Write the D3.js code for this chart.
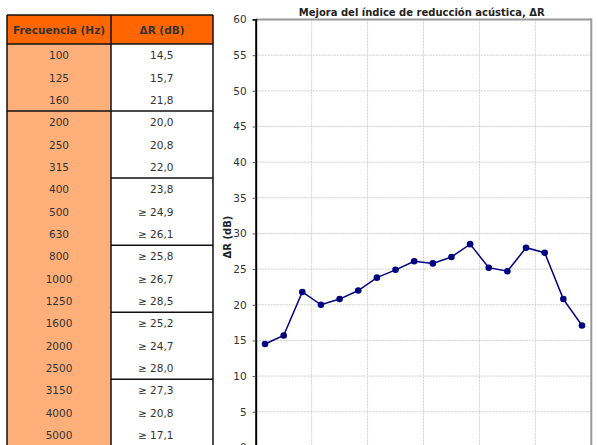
<!DOCTYPE html>
<html><head><meta charset="utf-8">
<script src="https://cdn.jsdelivr.net/npm/d3@7/dist/d3.min.js"></script>
<style>body{margin:0;background:#fff}svg{display:block}</style>
</head><body><svg id="c" width="598" height="445"></svg>
<script>
const freqs = [100,125,160,200,250,315,400,500,630,800,1000,1250,1600,2000,2500,3150,4000,5000];
const deltaR = [14.5,15.7,21.8,20.0,20.8,22.0,23.8,24.9,26.1,25.8,26.7,28.5,25.2,24.7,28.0,27.3,20.8,17.1];
const atLeast = [false,false,false,false,false,false,false,true,true,true,true,true,true,true,true,true,true,true];
const yTicks = [0,5,10,15,20,25,30,35,40,45,50,55,60];
const headers = ["Frecuencia (Hz)", "ΔR (dB)"];
const title = "Mejora del índice de reducción acústica, ΔR";
const yTitle = "ΔR (dB)";

const svg = d3.select("#c");
const font = "'DejaVu Sans', Verdana, sans-serif";

// ---------- Table ----------
const tx0 = 7, tx1 = 111, tx2 = 213, ty0 = 15, ty1 = 44, rowH = 22.35;
const tbl = svg.append("g");
const rowY = d3.scaleLinear().domain([0, freqs.length]).range([ty1, ty1 + rowH*freqs.length]);
tbl.append("rect").attr("x",tx0).attr("y",ty0).attr("width",tx2-tx0).attr("height",ty1-ty0).attr("fill","#ff6600");
tbl.append("rect").attr("x",tx0).attr("y",ty1).attr("width",tx1-tx0).attr("height",rowH*freqs.length).attr("fill","#ffb07a");
tbl.append("text").attr("x",(tx0+tx1)/2).attr("y",33.5).attr("text-anchor","middle")
  .attr("font-family",font).attr("font-size",10.5).attr("font-weight","bold").attr("fill","#333").text(headers[0]);
tbl.append("text").attr("x",(tx1+tx2)/2).attr("y",33.5).attr("text-anchor","middle")
  .attr("font-family",font).attr("font-size",10.5).attr("font-weight","bold").attr("fill","#333").text(headers[1]);
freqs.forEach((f,i)=>{
  const cy = rowY(i+0.5);
  tbl.append("text").attr("x",(tx0+tx1)/2).attr("y",cy+4).attr("text-anchor","middle")
    .attr("font-family",font).attr("font-size",10.5).attr("fill","#333").text(f);
  tbl.append("text").attr("x",173.5).attr("y",cy+4).attr("text-anchor","end")
    .attr("font-family",font).attr("font-size",10.5).attr("fill","#333")
    .text((atLeast[i] ? "≥ " : "") + deltaR[i].toFixed(1).replace(".", ","));
});
const ln = (x1,y1,x2,y2)=>tbl.append("line").attr("x1",x1).attr("y1",y1).attr("x2",x2).attr("y2",y2)
  .attr("stroke","#111").attr("stroke-width",1.5);
ln(tx0,ty0,tx2,ty0); ln(tx0,ty1,tx2,ty1);
ln(tx0,ty0,tx0,450); ln(tx1,ty0,tx1,450); ln(tx2,ty0,tx2,450);
[3,6,9,12,15].forEach(k=>{
  const y = rowY(k);
  if (k===3) ln(tx0,y,tx2,y); else ln(tx1,y,tx2,y);
});

// ---------- Chart ----------
const px0 = 255.7, px1 = 591.3;
const x = d3.scaleBand().domain(freqs).range([px0, px1]).padding(0);
const y = d3.scaleLinear().domain([0,60]).range([447.4, 19.5]);
const g = svg.append("g");

// gridlines
g.selectAll(".hg").data(yTicks.filter(t=>t>0 && t<60)).join("line")
  .attr("x1",px0).attr("x2",px1).attr("y1",d=>y(d)).attr("y2",d=>y(d))
  .attr("stroke","#cfcfcf").attr("stroke-width",1).attr("stroke-dasharray","2,1");
g.selectAll(".vg").data(freqs.filter((f,i)=>i>0 && i%3===0)).join("line")
  .attr("x1",d=>x(d)).attr("x2",d=>x(d)).attr("y1",y(60)).attr("y2",y(0))
  .attr("stroke","#cfcfcf").attr("stroke-width",1).attr("stroke-dasharray","2,1");

// frame
g.append("line").attr("x1",px0).attr("x2",px1).attr("y1",y(60)).attr("y2",y(60)).attr("stroke","#999").attr("stroke-width",2);
g.append("line").attr("x1",px1).attr("x2",px1).attr("y1",y(60)-1).attr("y2",y(0)).attr("stroke","#999").attr("stroke-width",2);

// y axis
const yAxis = d3.axisLeft(y).tickValues(yTicks).tickSize(3).tickPadding(6).tickFormat(d3.format("d"));
const ya = g.append("g").attr("transform",`translate(${px0},0)`).call(yAxis);
ya.select(".domain").attr("stroke","#000").attr("stroke-width",2);
ya.selectAll(".tick line").attr("stroke","#555");
ya.selectAll(".tick text").attr("font-family",font).attr("font-size",10.5).attr("fill","#333");

// line + markers
const line = d3.line().x((d,i)=>x(freqs[i])+x.bandwidth()/2).y(d=>y(d));
g.append("path").datum(deltaR).attr("d",line).attr("fill","none").attr("stroke","#000080").attr("stroke-width",1.5);
g.selectAll(".pt").data(deltaR).join("circle")
  .attr("cx",(d,i)=>x(freqs[i])+x.bandwidth()/2).attr("cy",d=>y(d)).attr("r",3.3).attr("fill","#000080");

// titles
svg.append("text").attr("x",421.7).attr("y",15.5).attr("text-anchor","middle")
  .attr("font-family",font).attr("font-size",10).attr("font-weight","bold").attr("fill","#222").text(title);
svg.append("text").attr("transform","translate(231,237) rotate(-90)").attr("text-anchor","middle")
  .attr("font-family",font).attr("font-size",10).attr("font-weight","bold").attr("fill","#222").text(yTitle);
</script></body></html>
